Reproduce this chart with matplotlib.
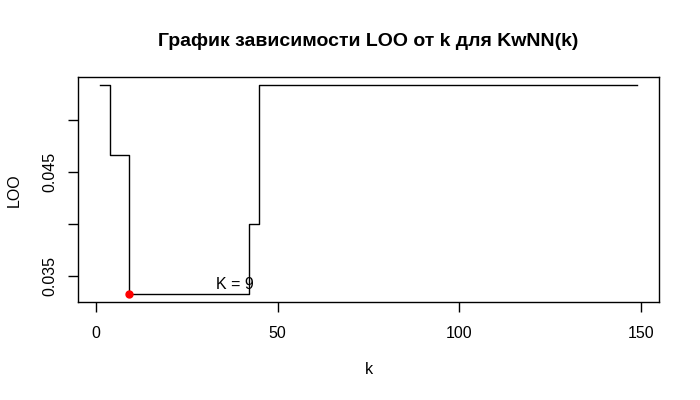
import matplotlib
matplotlib.use("Agg")
import matplotlib.pyplot as plt

plt.rcParams['font.family'] = ['Liberation Sans', 'DejaVu Sans']

# step breakpoints (k where LOO changes) and LOO values
k_steps = [1, 4, 9, 42, 45, 149]
loo_steps = [0.05333, 0.04667, 0.03333, 0.04, 0.05333, 0.05333]
best_k = 9
best_loo = 0.03333
label_text = "K = 9"
xticks = [0, 50, 100, 150]
yticks = [0.035, 0.040, 0.045, 0.050]
ytick_labels = ["0.035", "", "0.045", ""]

fs = 11.5
fig = plt.figure(figsize=(7, 4), dpi=100)
ax = fig.add_axes([78/700, (400-302)/400, (659-78)/700, (302-77)/400])

ax.plot(k_steps, loo_steps, drawstyle='steps-post', color='black', lw=1)
ax.plot([best_k], [best_loo], 'o', color='red', markersize=5)
ax.text(38.2, 0.0342, label_text, ha='center', va='center', fontsize=fs, color='black')

xr = (1, 149)
yr = (min(loo_steps), max(loo_steps))
ax.set_xlim(xr[0] - 0.04*(xr[1]-xr[0]), xr[1] + 0.04*(xr[1]-xr[0]))
ax.set_ylim(yr[0] - 0.04*(yr[1]-yr[0]), yr[1] + 0.04*(yr[1]-yr[0]))

ax.set_xticks(xticks)
ax.set_xticklabels([str(v) for v in xticks])
ax.set_yticks(yticks)
ax.set_yticklabels(ytick_labels, rotation=90, va='center')
ax.tick_params(direction='out', length=7, width=1, labelsize=fs, pad=10)
ax.tick_params(axis='y', pad=8)
for s in ax.spines.values():
    s.set_linewidth(1)

fig.text((78+659)/2/700, 1 - 370/400, "k", ha='center', va='center', fontsize=fs)
fig.text(14/700, 1 - 190/400, "LOO", ha='center', va='center', fontsize=fs, rotation=90)
fig.text((78+659)/2/700, 1 - 42/400, "График зависимости LOO от k для KwNN(k)",
         ha='center', va='center', fontsize=14, fontweight='bold')

fig.savefig("out.png", dpi=100)
